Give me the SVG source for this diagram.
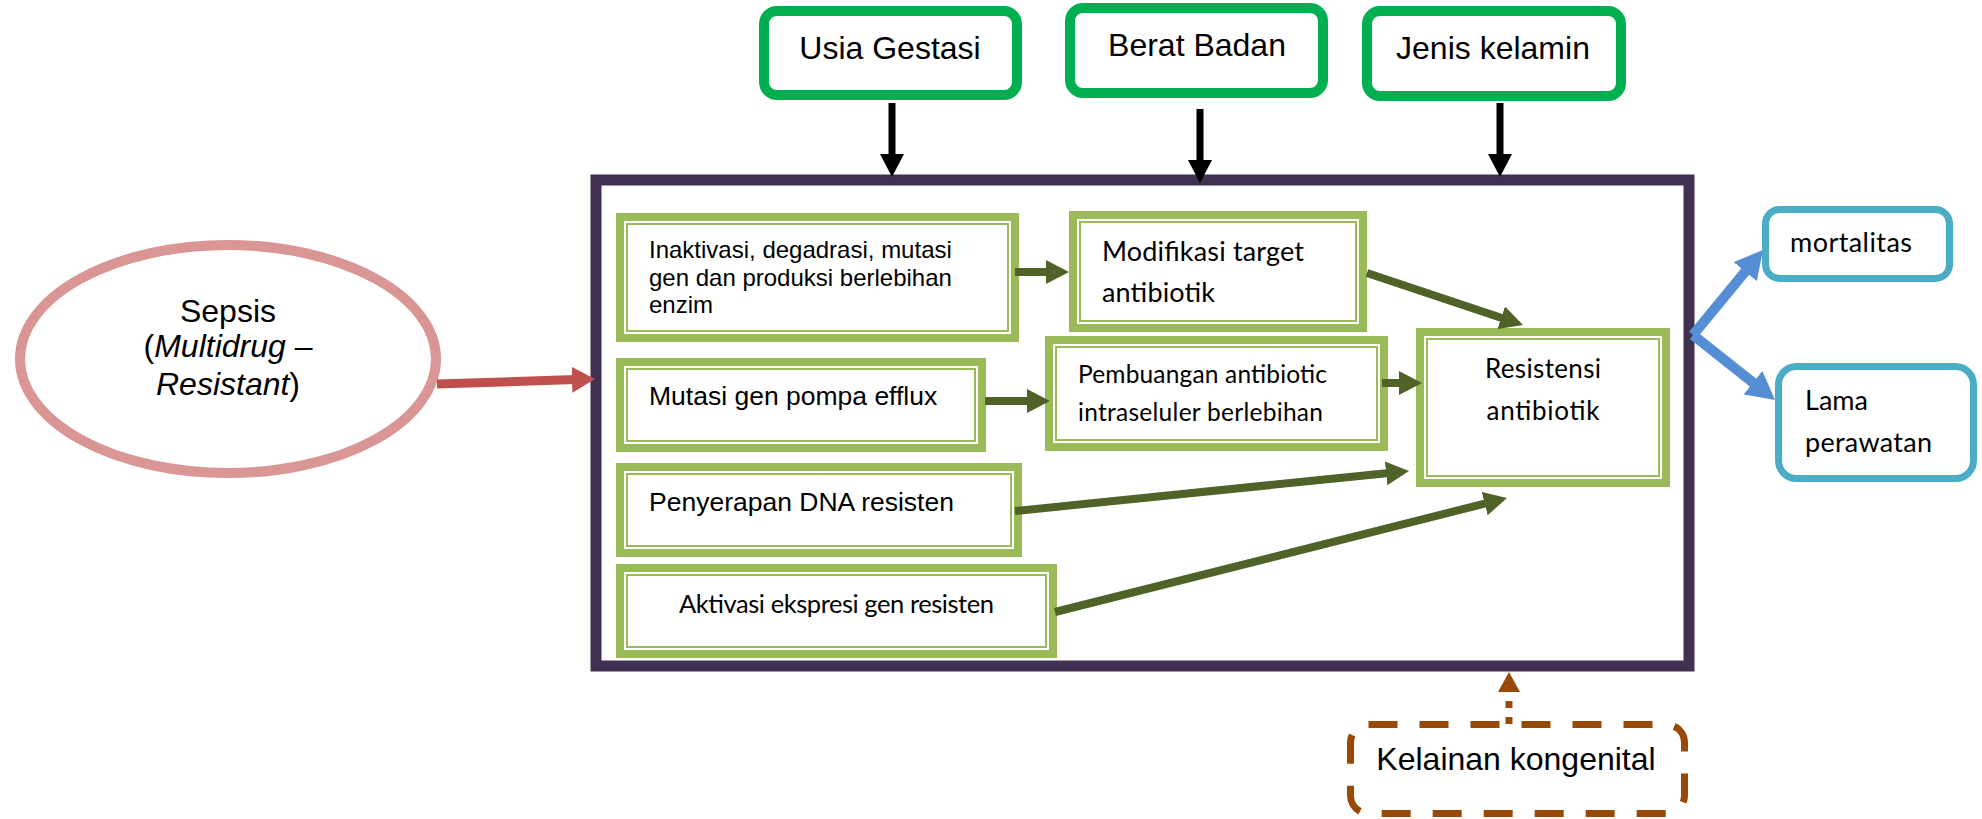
<svg xmlns="http://www.w3.org/2000/svg" width="1982" height="819" viewBox="0 0 1982 819">
<style>
.ar{font-family:"Liberation Sans",Arial,sans-serif;fill:#000}
.ca{font-family:Lato,"Noto Sans",sans-serif;fill:#000}
.top{fill:#fff;stroke:#00B050;stroke-width:10}
.gband{fill:#fff;stroke:#9BBB59;stroke-width:8}
.gthin{fill:none;stroke:#9BBB59;stroke-width:2}
.cy{fill:#fff;stroke:#4BACC6;stroke-width:7}
.ol{stroke:#4F6228;stroke-width:8;fill:none}
</style>
<defs>
<marker id="mBlack" markerUnits="userSpaceOnUse" viewBox="0 0 23 24" markerWidth="23" markerHeight="24" refX="3" refY="12" orient="auto"><path d="M0,0 L23,12 L0,24 z" fill="#000"/></marker>
<marker id="mOlive" markerUnits="userSpaceOnUse" viewBox="0 0 23 24" markerWidth="23" markerHeight="24" refX="3" refY="12" orient="auto"><path d="M0,0 L23,12 L0,24 z" fill="#4F6228"/></marker>
<marker id="mRed" markerUnits="userSpaceOnUse" viewBox="0 0 23 26" markerWidth="23" markerHeight="26" refX="3" refY="13" orient="auto"><path d="M0,0 L23,13 L0,26 z" fill="#C0504D"/></marker>
<marker id="mBlue" markerUnits="userSpaceOnUse" viewBox="0 0 28 30" markerWidth="28" markerHeight="30" refX="3" refY="15" orient="auto"><path d="M0,0 L28,15 L0,30 z" fill="#558ED5"/></marker>
<marker id="mBrown" markerUnits="userSpaceOnUse" viewBox="0 0 20 22" markerWidth="20" markerHeight="22" refX="0" refY="11" orient="auto"><path d="M0,0 L20,11 L0,22 z" fill="#984807"/></marker>
</defs>
<rect width="1982" height="819" fill="#fff"/>

<g id="main-frame">
<rect x="596" y="180" width="1093" height="486" fill="#fff" stroke="#403152" stroke-width="11"/>
</g>

<g id="sepsis">
<ellipse cx="228" cy="359" rx="208" ry="114" fill="#fff" stroke="#D99694" stroke-width="10"/>
<text class="ar" font-size="32" text-anchor="middle" x="228" y="322">Sepsis</text>
<text class="ar" font-size="32" text-anchor="middle" x="228" y="357">(<tspan font-style="italic">Multidrug</tspan> –</text>
<text class="ar" font-size="32" text-anchor="middle" x="228" y="395"><tspan font-style="italic">Resistant</tspan>)</text>
</g>

<g id="usia-gestasi">
<rect class="top" x="764" y="11" width="253" height="84" rx="13"/>
<text class="ar" font-size="32" text-anchor="middle" x="890" y="59">Usia Gestasi</text>
</g>
<g id="berat-badan">
<rect class="top" x="1070" y="8" width="253" height="85" rx="13"/>
<text class="ar" font-size="32" text-anchor="middle" x="1197" y="56">Berat Badan</text>
</g>
<g id="jenis-kelamin">
<rect class="top" x="1367" y="11" width="254" height="85" rx="13"/>
<text class="ar" font-size="32" text-anchor="middle" x="1493" y="59">Jenis kelamin</text>
</g>

<g id="inaktivasi">
<rect class="gband" x="620" y="217" width="395" height="121"/>
<rect class="gthin" x="627" y="224" width="381" height="107"/>
<text class="ar" font-size="24" x="649" y="258">Inaktivasi, degadrasi, mutasi</text>
<text class="ar" font-size="24" x="649" y="286">gen dan produksi berlebihan</text>
<text class="ar" font-size="24" x="649" y="313">enzim</text>
</g>
<g id="modifikasi">
<rect class="gband" x="1073" y="215" width="290" height="113"/>
<rect class="gthin" x="1080" y="222" width="276" height="99"/>
<text class="ca" font-size="27" x="1102" y="261" textLength="202">Modifikasi target</text>
<text class="ca" font-size="27" x="1102" y="302" textLength="113">antibiotik</text>
</g>
<g id="mutasi">
<rect class="gband" x="620" y="362" width="362" height="86"/>
<rect class="gthin" x="627" y="369" width="348" height="72"/>
<text class="ar" font-size="26.5" x="649" y="405">Mutasi gen pompa efflux</text>
</g>
<g id="pembuangan">
<rect class="gband" x="1049" y="340" width="335" height="107"/>
<rect class="gthin" x="1056" y="347" width="321" height="93"/>
<text class="ca" font-size="24.5" x="1078" y="383" textLength="249">Pembuangan antibiotic</text>
<text class="ca" font-size="24.5" x="1078" y="421" textLength="245">intraseluler berlebihan</text>
</g>
<g id="resistensi">
<rect class="gband" x="1420" y="332" width="246" height="151"/>
<rect class="gthin" x="1427" y="339" width="232" height="137"/>
<text class="ca" font-size="26" text-anchor="middle" x="1543" y="378" textLength="116">Resistensi</text>
<text class="ca" font-size="26" text-anchor="middle" x="1543" y="420" textLength="113">antibiotik</text>
</g>
<g id="penyerapan">
<rect class="gband" x="620" y="467" width="398" height="86"/>
<rect class="gthin" x="627" y="474" width="384" height="72"/>
<text class="ar" font-size="26.5" x="649" y="511">Penyerapan DNA resisten</text>
</g>
<g id="aktivasi">
<rect class="gband" x="620" y="568" width="433" height="86"/>
<rect class="gthin" x="627" y="575" width="419" height="72"/>
<text class="ca" font-size="25.5" x="679" y="613" textLength="315">Aktivasi ekspresi gen resisten</text>
</g>

<g id="mortalitas">
<rect class="cy" x="1765.5" y="209.5" width="184" height="69" rx="14"/>
<text class="ca" font-size="27" x="1790" y="252" textLength="122">mortalitas</text>
</g>
<g id="lama-perawatan">
<rect class="cy" x="1778.5" y="366.5" width="195" height="112" rx="18"/>
<text class="ca" font-size="27" x="1805" y="410" textLength="63">Lama</text>
<text class="ca" font-size="27" x="1805" y="452" textLength="127">perawatan</text>
</g>

<g id="kelainan-kongenital">
<rect x="1350.5" y="724.5" width="334" height="89" rx="18" fill="#fff" stroke="#984807" stroke-width="7" stroke-dasharray="29 22"/>
<text class="ar" font-size="32" text-anchor="middle" x="1516" y="770">Kelainan kongenital</text>
</g>

<g id="connectors">
<line x1="892" y1="103" x2="892" y2="157" stroke="#000" stroke-width="7" marker-end="url(#mBlack)"/>
<line x1="1200" y1="109" x2="1200" y2="163" stroke="#000" stroke-width="7" marker-end="url(#mBlack)"/>
<line x1="1500" y1="103" x2="1500" y2="157" stroke="#000" stroke-width="7" marker-end="url(#mBlack)"/>
<line x1="437" y1="384" x2="575" y2="379.6" stroke="#C0504D" stroke-width="9" marker-end="url(#mRed)"/>
<line class="ol" x1="1015" y1="272" x2="1049" y2="272" marker-end="url(#mOlive)"/>
<line class="ol" x1="985" y1="401" x2="1030" y2="401" marker-end="url(#mOlive)"/>
<line class="ol" x1="1382" y1="383" x2="1402" y2="383" marker-end="url(#mOlive)"/>
<line class="ol" x1="1367" y1="273" x2="1504" y2="318.7" marker-end="url(#mOlive)"/>
<line class="ol" x1="1015" y1="511" x2="1389.1" y2="473" marker-end="url(#mOlive)"/>
<line class="ol" x1="1055" y1="612" x2="1487.6" y2="502.9" marker-end="url(#mOlive)"/>
<line x1="1693" y1="335" x2="1747.1" y2="269.3" stroke="#558ED5" stroke-width="10" marker-end="url(#mBlue)"/>
<line x1="1693" y1="335" x2="1755.4" y2="384.5" stroke="#558ED5" stroke-width="10" marker-end="url(#mBlue)"/>
<line x1="1509" y1="724" x2="1509" y2="692" stroke="#984807" stroke-width="7" stroke-dasharray="7 9" marker-end="url(#mBrown)"/>
</g>
</svg>
